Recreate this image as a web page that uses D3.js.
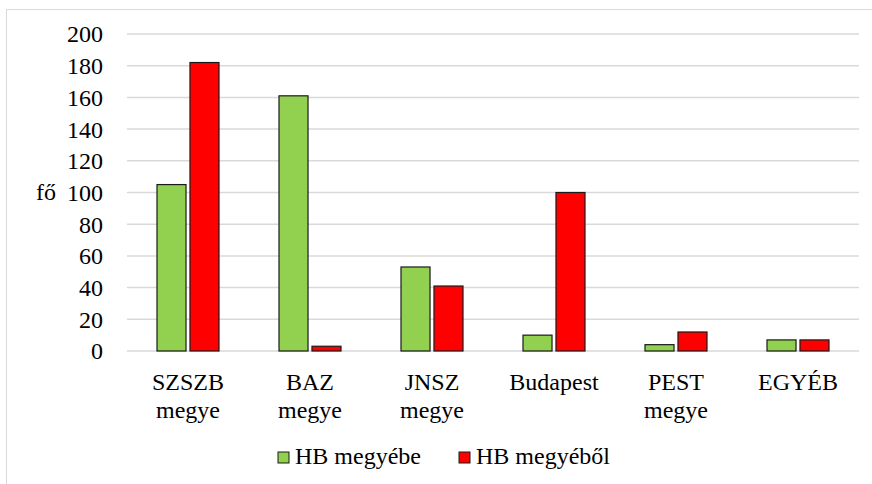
<!DOCTYPE html>
<html>
<head>
<meta charset="utf-8">
<script src="https://cdn.jsdelivr.net/npm/d3@7"></script>
<style>
    body { margin: 0; background: #fff; }
    .grid line { stroke: #d9d9d9; stroke-width: 1.5; }
    .bar { stroke: #1a1a1a; stroke-width: 1.2; }
</style>
</head>
<body>
<script>
let width = 872,
    height = 484,
    fontFamily = "Liberation Serif",
    fontSize = "24px";

let categories = [["SZSZB", "megye"], ["BAZ", "megye"], ["JNSZ", "megye"], ["Budapest"], ["PEST", "megye"], ["EGYÉB"]];
let seriesNames = ["HB megyébe", "HB megyéből"];
let seriesColors = ["#92d050", "#ff0000"];
let toHB = [105, 161, 53, 10, 4, 7];
let fromHB = [182, 3, 41, 100, 12, 7];
let yTicks = [0, 20, 40, 60, 80, 100, 120, 140, 160, 180, 200];

let margin = { top: 34, left: 127, right: 13, bottom: 133 };

let svg = d3.select("body").append("svg")
    .attr("width", width)
    .attr("height", height);

// keret
svg.append("rect")
    .attr("x", 6.5).attr("y", 9.5)
    .attr("width", width + 10).attr("height", height + 10)
    .attr("fill", "none")
    .attr("stroke", "#d9d9d9")
    .attr("stroke-width", 1);

let x = d3.scaleBand()
    .domain(d3.range(categories.length))
    .range([margin.left, width - margin.right]);

let xInner = d3.scaleBand()
    .domain([0, 1])
    .range([0, 62])
    .paddingInner(0.12);

let y = d3.scaleLinear()
    .domain([0, 200])
    .range([height - margin.bottom, margin.top]);

// rácsvonalak
svg.append("g")
    .attr("class", "grid")
    .selectAll("line")
    .data(yTicks)
    .enter()
    .append("line")
    .attr("x1", margin.left)
    .attr("x2", width - margin.right)
    .attr("y1", d => y(d))
    .attr("y2", d => y(d));

// y tengely feliratok
let yAxis = d3.axisLeft(y).tickValues(yTicks).tickSize(0).tickPadding(24);
let yg = svg.append("g")
    .attr("transform", `translate(${margin.left}, 0)`)
    .call(yAxis)
    .attr("font-family", fontFamily)
    .attr("font-size", fontSize);
yg.select(".domain").remove();
yg.selectAll("text")
    .attr("fill", "#000")
    .attr("dy", "0.33em");

svg.append("text")
    .attr("x", 36)
    .attr("y", y(100))
    .attr("dy", "0.33em")
    .style("font-family", fontFamily)
    .style("font-size", fontSize)
    .text("fő");

// oszlopok
let series = [toHB, fromHB];
series.forEach(function (values, s) {
    svg.append("g")
        .selectAll("rect")
        .data(values)
        .enter()
        .append("rect")
        .attr("class", "bar")
        .attr("fill", seriesColors[s])
        .attr("x", (d, i) => x(i) + (x.bandwidth() - 62) / 2 + xInner(s))
        .attr("width", xInner.bandwidth())
        .attr("y", d => y(d))
        .attr("height", d => y(0) - y(d));
});

// x tengely feliratok
let xl = svg.append("g")
    .selectAll("text")
    .data(categories)
    .enter()
    .append("text")
    .attr("text-anchor", "middle")
    .attr("x", (d, i) => x(i) + x.bandwidth() / 2)
    .attr("y", 390)
    .style("font-family", fontFamily)
    .style("font-size", fontSize);

xl.selectAll("tspan")
    .data(d => d)
    .enter()
    .append("tspan")
    .attr("x", function () { return d3.select(this.parentNode).attr("x") })
    .attr("dy", (d, i) => i == 0 ? 0 : 27.5)
    .text(d => d);

// jelmagyarázat
let legendX = [278, 459];
seriesNames.forEach(function (name, s) {
    svg.append("rect")
        .attr("x", legendX[s])
        .attr("y", 452)
        .attr("width", 11)
        .attr("height", 11)
        .attr("fill", seriesColors[s])
        .attr("stroke", "#1a1a1a")
        .attr("stroke-width", 1);
    svg.append("text")
        .attr("x", legendX[s] + 17)
        .attr("y", 463.5)
        .style("font-family", fontFamily)
        .style("font-size", fontSize)
        .text(name);
});
</script>
</body>
</html>
